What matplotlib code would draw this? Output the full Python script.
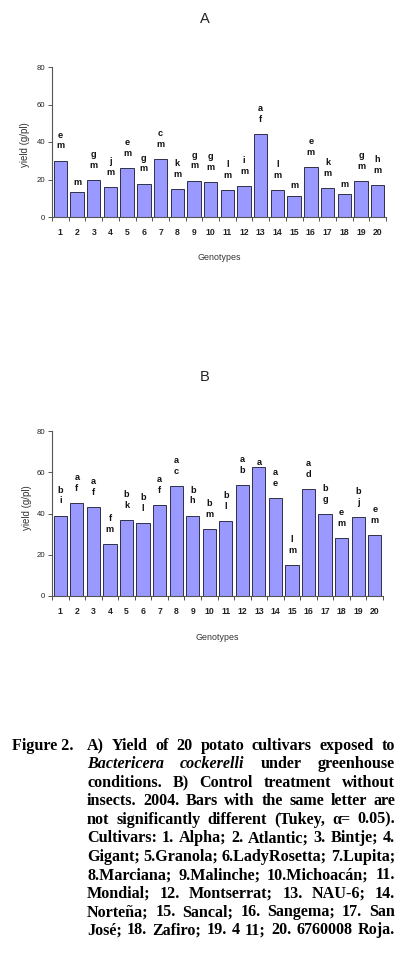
import matplotlib
matplotlib.use("Agg")
import matplotlib.pyplot as plt
import numpy as np

W, H = 398, 974

genotypes = [str(i) for i in range(1, 21)]
yield_A = [30, 13.3, 19.6, 15.9, 26, 17.7, 30.8, 14.9, 19.3, 18.6,
           14.3, 16.5, 44.1, 14.3, 11.2, 26.5, 15.4, 12.2, 19.1, 17]
letters_A = ["em", "m", "gm", "jm", "em", "gm", "cm", "km", "gm", "gm",
             "lm", "im", "af", "lm", "m", "em", "km", "m", "gm", "hm"]
yield_B = [38.8, 44.9, 43, 25.2, 36.7, 35.2, 44, 53.2, 38.8, 32.3,
           36.2, 53.7, 62.7, 47.5, 14.9, 51.7, 39.6, 28, 38.1, 29.4]
letters_B = ["bi", "af", "af", "fm", "bk", "bl", "af", "ac", "bh", "bm",
             "bl", "ab", "a", "ae", "lm", "ad", "bg", "em", "bj", "em"]
yticks = [0, 20, 40, 60, 80]

caption_lines = [
    [("A)", "b"), ("Yield", "b"), ("of", "b"), ("20", "b"), ("potato", "b"), ("cultivars", "b"), ("exposed", "b"), ("to", "b")],
    [("Bactericera", "i"), ("cockerelli", "i"), ("under", "b"), ("greenhouse", "b")],
    [("conditions.", "b"), ("B)", "b"), ("Control", "b"), ("treatment", "b"), ("without", "b")],
    [("insects.", "b"), ("2004.", "b"), ("Bars", "b"), ("with", "b"), ("the", "b"), ("same", "b"), ("letter", "b"), ("are", "b")],
    [("not", "b"), ("significantly", "b"), ("different", "b"), ("(Tukey,", "b"), ("α=", "b"), ("0.05).", "b")],
    [("Cultivars:", "b"), ("1.", "b"), ("Alpha;", "b"), ("2.", "b"), ("Atlantic;", "b"), ("3.", "b"), ("Bintje;", "b"), ("4.", "b")],
    [("Gigant;", "b"), ("5.Granola;", "b"), ("6.LadyRosetta;", "b"), ("7.Lupita;", "b")],
    [("8.Marciana;", "b"), ("9.Malinche;", "b"), ("10.Michoacán;", "b"), ("11.", "b")],
    [("Mondial;", "b"), ("12.", "b"), ("Montserrat;", "b"), ("13.", "b"), ("NAU-6;", "b"), ("14.", "b")],
    [("Norteña;", "b"), ("15.", "b"), ("Sancal;", "b"), ("16.", "b"), ("Sangema;", "b"), ("17.", "b"), ("San", "b")],
    [("José;", "b"), ("18.", "b"), ("Zafiro;", "b"), ("19.", "b"), ("4", "b"), ("11;", "b"), ("20.", "b"), ("6760008", "b"), ("Roja.", "b")],
]

BAR = "#9999ff"
EDGE = "#303048"
AX = "#555555"

fig = plt.figure(figsize=(W / 100, H / 100), dpi=100)


def fx(px):
    return px / W


def fy(py):
    return 1 - py / H


LFS = 6.6


def panel(left, right, top, bottom, values, letters, title, title_y, ylab_x, ylab_y, geno_y):
    ax = fig.add_axes([fx(left), fy(bottom), fx(right) - fx(left), fy(top) - fy(bottom)])
    x = np.arange(len(values))
    ax.bar(x, values, width=0.8, color=BAR, edgecolor=EDGE, linewidth=0.7)
    ax.set_xlim(-0.5, len(values) - 0.5)
    ax.set_ylim(0, 80)
    for s in ("top", "right"):
        ax.spines[s].set_visible(False)
    for s in ("left", "bottom"):
        ax.spines[s].set_color(AX)
        ax.spines[s].set_linewidth(0.8)
    ax.set_yticks(yticks)
    ax.set_yticklabels([str(t) for t in yticks], fontsize=5.6, family="Liberation Sans", color="#222222")
    ax.tick_params(axis="y", direction="out", length=3, width=0.7, color=AX, pad=2)
    ax.set_xticks(x)
    ax.set_xticklabels(genotypes, fontsize=6.2, family="Liberation Sans",
                       fontweight="bold", color="#222222")
    ax.tick_params(axis="x", which="major", length=0, pad=8)
    ax.set_xticks(np.arange(len(values) + 1) - 0.5, minor=True)
    ax.tick_params(axis="x", which="minor", direction="out", length=3, width=0.7, color=AX)
    for xi, v, lab in zip(x, values, letters):
        if len(lab) == 1:
            off = 10 if v < 60 else 4
            ax.annotate(lab, (xi, v), xytext=(0, off * 0.72), textcoords="offset points",
                        ha="center", va="center", fontsize=LFS, fontweight="bold",
                        family="Liberation Sans", color="#111111")
        else:
            ax.annotate(lab[1], (xi, v), xytext=(0, 15 * 0.72), textcoords="offset points",
                        ha="center", va="center", fontsize=LFS, fontweight="bold",
                        family="Liberation Sans", color="#111111")
            ax.annotate(lab[0], (xi, v), xytext=(0, 25.5 * 0.72), textcoords="offset points",
                        ha="center", va="center", fontsize=LFS, fontweight="bold",
                        family="Liberation Sans", color="#111111")
    fig.text(fx(205), fy(title_y), title, ha="center", va="center", fontsize=10.5,
             family="Liberation Sans", color="#222222")
    fig.text(fx(ylab_x), fy(ylab_y), "yield (g/pl)", rotation=90, ha="center", va="center",
             fontsize=7, family="Liberation Sans", color="#333333")
    fig.text(fx((left + right) / 2), fy(geno_y), "Genotypes", ha="center", va="center",
             fontsize=6.4, family="Liberation Sans", color="#333333")
    return ax


panel(52, 386, 67, 217, yield_A, letters_A, "A", 19, 25, 145, 258)
panel(52, 383, 431, 596, yield_B, letters_B, "B", 377, 27, 508, 637)

# caption with justified lines
renderer = fig.canvas.get_renderer()
FS = 11.6
fig.text(fx(12), fy(750), "Figure 2.", ha="left", va="baseline", fontsize=FS,
         family="Liberation Serif", fontweight="bold", color="black")
x0, x1 = 87, 395
for i, tokens in enumerate(caption_lines):
    base = 750 + i * 18.45
    fs = FS
    for attempt in range(2):
        texts, widths = [], []
        for tok, st in tokens:
            t = fig.text(0, fy(base), tok, ha="left", va="baseline", fontsize=fs,
                         family="Liberation Serif", fontweight="bold",
                         fontstyle="italic" if st == "i" else "normal", color="black")
            texts.append(t)
            widths.append(t.get_window_extent(renderer).width)
        need = sum(widths) + 2.0 * (len(tokens) - 1)
        if need <= (x1 - x0) or attempt == 1:
            break
        for t in texts:
            t.remove()
        fs = fs * (x1 - x0) / need
    gap = (x1 - x0 - sum(widths)) / max(len(tokens) - 1, 1)
    cur = x0
    for t, w in zip(texts, widths):
        t.set_x(fx(cur))
        cur += w + gap

fig.savefig("out.png", dpi=100)
